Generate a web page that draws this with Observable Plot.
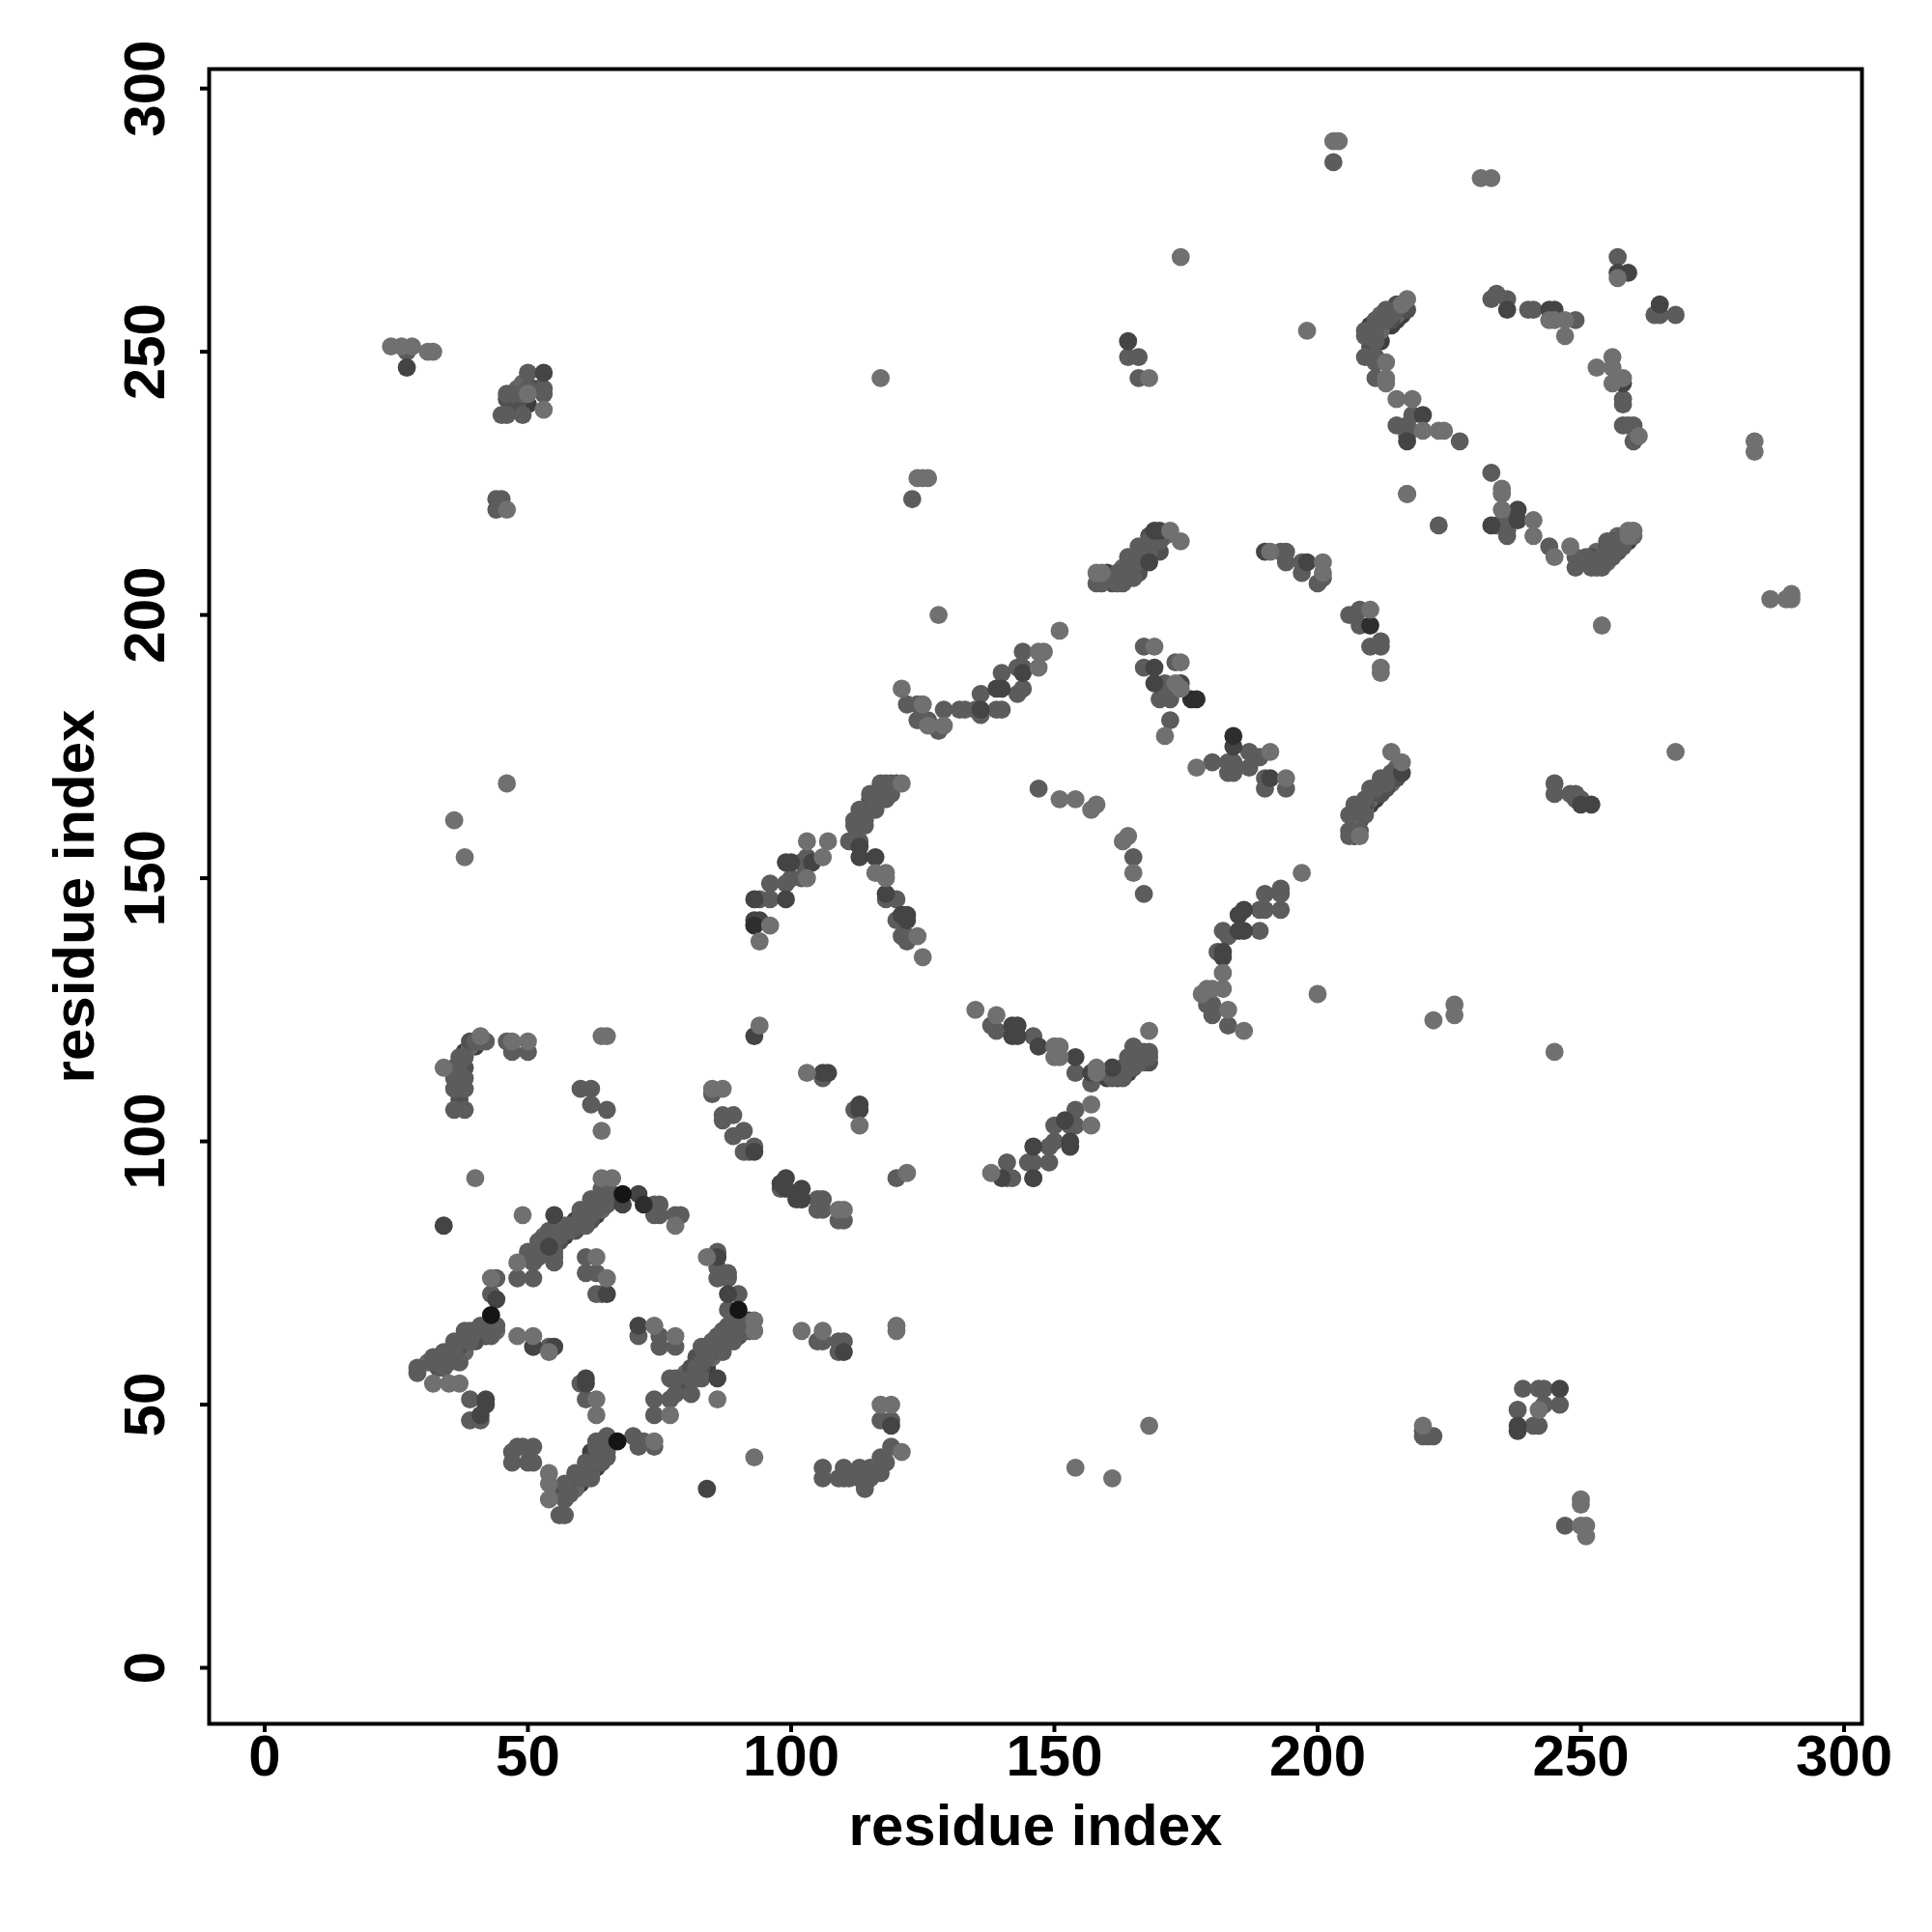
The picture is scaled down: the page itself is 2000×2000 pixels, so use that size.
<!DOCTYPE html>
<html>
<head>
<meta charset="utf-8">
<script src="https://cdn.jsdelivr.net/npm/d3@7"></script>
<script src="https://cdn.jsdelivr.net/npm/@observablehq/plot@0.6"></script>
<style>html,body{margin:0;padding:0;background:#fff}</style>
</head>
<body>
<div id="chart"></div>
<script>
const tickValues = [0, 50, 100, 150, 200, 250, 300];
const axisLabel = "residue index";

const midPoints = [
[65,90],[64,90],[64,91],[65,91],[62,89],[63,89],[65,88],[63,87],[62,86],[60,87],[60,86],[61,85],[61,84],[59,84],[58,83],[58,84],[57,83],[56,82],[55,82],[54,83],[55,81],[54,81],[55,79],[55,77],[55,78],[52,81],[50,79],[51,77],[52,78],[48,74],[51,74],
[44,74],[43,71],[44,65],[43,63],[42,65],[41,65],[40,64],[39,64],[38,64],[39,62],[37,62],[36,62],[36,60],[35,60],[34,60],[37,58],[35,58],[34,57],[32,59],[32,58],[29,57],[29,56],
[39,51],[39,47],[41,47],[51,61],[54,61],[61,75],[63,75],[61,78],[63,71],[64,71],[71,63],[75,63],[75,61],[78,61],[60,54],[61,51],
[86,79],[86,76],[86,74],[88,75],[88,74],[90,71],[88,68],[91,66],[91,64],[89,64],[88,65],[87,64],[89,62],[87,60],[86,63],[85,62],[83,61],[84,59],[83,58],[82,57],[83,55],[81,55],[81,52],[78,55],[77,55],[78,52],[74,51],[74,48],[77,51],
[70,44],[71,42],[74,42],[72,43],[65,44],[63,43],[65,42],[63,42],[65,40],[64,39],[62,39],[61,39],[62,36],[60,36],[59,37],[57,35],[57,32],[58,33],[56,29],[57,29],
[48,42],[47,41],[51,42],[47,39],[51,39],[50,39],[49,42],[75,88],[74,88],[74,86],[75,86],[78,86],[79,86],
[85,109],[87,105],[89,105],[87,104],[89,101],[91,102],[91,98],[93,99],[92,98],
[106,112],[112,106],[120,93],[98,91],[102,89],[105,89],[106,89],[105,87],[106,87],[109,85],[110,85],
[105,62],[106,62],[109,62],[110,62],[109,60],[117,47],[119,47],[119,42],[117,40],[118,39],[117,37],[115,38],[113,38],[110,38],[106,38],[106,36],[110,36],[113,36],[115,36],[114,34],[111,36],[109,36],
[138,122],[139,121],[146,120],[150,118],[154,113],[157,111],[161,114],[161,112],[163,112],[163,114],[166,115],[166,116],[168,116],[168,117],[167,117],[165,118],[164,116],[165,114],
[154,106],[154,103],[153,103],[150,103],[150,100],[149,99],[149,96],[145,96],[146,96],[146,93],[141,96],[142,93],[141,93],
[122,183],[124,183],[124,180],[126,180],[128,178],[129,182],[132,182],[133,182],[135,182],[136,185],[136,181],[139,182],[140,182],[140,189],[143,185],[144,186],[143,190],[144,190],[144,193],
[103,154],[102,153],[100,150],[102,150],[99,149],[96,149],[96,146],[94,146],
[119,168],[117,168],[118,168],[119,166],[115,166],[118,165],[116,165],[116,163],[115,163],[113,163],[112,161],[114,161],[112,160],[114,160],[113,157],[111,157],[112,157],
[118,147],[118,146],[120,146],[120,142],[121,139],[122,138],[122,139],[121,142],
[147,167],[165,154],[167,147],
[158,206],[159,206],[162,208],[162,206],[163,206],[163,208],[164,208],[164,211],[165,207],[166,213],[166,210],[167,212],[168,214],[168,212],[170,214],
[194,212],[193,212],[194,210],[197,210],[197,208],[200,206],[201,207],[206,200],[208,201],[208,198],[210,194],[212,195],[212,194],
[167,194],[167,190],[171,187],[173,191],[170,184],[172,184],[172,180],
[187,174],[189,173],[188,173],[180,172],[183,172],[184,172],[183,170],[184,170],[187,171],[190,167],[194,167],[190,169],
[214,170],[212,169],[213,168],[211,167],[210,167],[209,165],[207,164],[209,162],[206,162],[206,159],[206,158],[208,159],
[193,148],[193,147],[190,147],[193,144],[189,144],[190,144],[189,140],[182,140],[183,139],[181,136],[180,126],[179,126],[180,124],[183,122],
[257,268],[265,257],[264,257],[268,257],[258,241],[258,240],[258,236],[260,236],[259,236],[260,233],
[233,260],[234,261],[236,260],[240,258],[241,258],[249,256],
[215,258],[214,257],[213,258],[213,256],[211,256],[211,255],[209,254],[209,253],[211,253],[211,252],[209,249],[211,249],[211,248],[211,245],[218,238],[215,236],[217,236],[217,234],[227,233],
[217,223],[223,217],[233,227],[236,218],[236,216],[236,215],[234,217],[244,213],[249,211],[249,209],[251,211],[252,209],[253,209],[254,209],[255,214],[254,211],[256,211],[255,212],[257,213],[258,213],[258,215],
[27,250],[45,238],[46,238],[49,238],[46,242],[47,242],[50,243],[50,246],[53,243],[53,242],[49,242],[44,222],[45,222],[44,220],
[36,114],[36,112],[38,112],[36,110],[38,110],[36,106],[38,106],[37,116],[38,116],[37,115],[40,119],[42,119],[46,119],[50,117],[47,117],[60,110],[62,110],[62,107],[65,106],
[239,53],[242,53],[243,53],[238,49],[243,50],[246,50],[241,46],[242,46],[220,45],[220,44],[222,44],[221,44],[247,27],
[164,249],[166,249],[166,245],[203,286],[123,222],
[245,168],[245,166],[248,166],[249,166],[249,165],[250,165]
];

const bandLowerLeft = [[56,33],[56,34],[57,34],[58,34],[59,34],[59,36],[60,35],[60,37],[61,36],[61,38],[62,37],[62,38],[63,38],[63,40],[63,41],[64,40],[64,41],[64,42],[62,41],[65,41],[66,43]];
const bandUpperLeft = [[53,80],[53,82],[54,82],[55,80],[56,83],[56,81],[57,82],[57,84],[59,83],[59,85],[60,84],[60,85],[61,86],[61,87],[62,85],[62,87],[62,88],[63,88],[63,86],[64,87],[64,88],[64,89],[65,89],[66,90],[66,89]];
const bandLeft = [[31,58],[33,57],[33,59],[34,59],[35,59],[36,59],[36,61],[37,61],[37,60],[38,60],[38,62],[38,63],[39,63],[40,62],[40,63],[41,63],[41,64],[42,63],[42,64],[43,65],[43,64],[44,64]];
const bandRight = [[79,54],[80,54],[80,56],[81,57],[81,56],[82,55],[82,59],[82,58],[83,59],[83,57],[84,57],[84,60],[85,60],[85,61],[85,59],[86,61],[86,62],[87,62],[87,63],[88,62],[88,63],[88,64],[89,65],[89,63],[90,65],[90,64],[90,66],[90,63],[91,65],[92,65],[92,64],[92,66]];
const bandTopRight = [[210,253],[210,254],[210,255],[212,254],[212,256],[212,255],[212,257],[213,257],[214,255],[214,258],[214,256],[215,256],[215,257],[215,259],[216,257],[216,258],[217,258],[213,255],[210,252],[210,251],[212,252]];
const bandLowRight = [[250,210],[252,211],[253,210],[253,212],[254,210],[254,212],[255,210],[255,213],[256,212],[256,213],[256,214],[257,214],[257,215],[258,214],[259,214],[260,215],[257,212]];
const bandMiddleRight = [[207,162],[208,162],[208,163],[208,161],[209,163],[209,164],[210,164],[210,165],[210,166],[211,165],[211,166],[212,166],[212,167],[212,168],[213,167],[213,169],[214,168],[214,169],[215,170],[215,171],[215,169],[207,158],[207,159],[208,164]];
const bandMiddleTop = [[160,208],[161,207],[161,206],[163,207],[163,209],[164,209],[164,207],[165,209],[165,210],[165,208],[166,211],[166,208],[167,210],[167,211],[167,213],[168,211],[168,213],[168,215],[169,214],[169,215],[169,212],[170,215],[171,215],[170,212]];
const bandPeak = [[113,161],[113,160],[114,163],[114,162],[115,164],[115,165],[116,166],[117,165],[117,166],[118,167],[119,167],[120,168]];
const bandV = [[160,112],[160,113],[162,113],[164,113],[164,114],[164,115],[165,116],[165,115],[166,117],[167,116],[167,115],[168,115],[162,112]];
const clusterExtras = [[47,240],[48,240],[50,240],[48,243],[46,241],[51,243],[49,244],[52,243],[37,113],[37,112],[38,114],[38,117],[39,118],[39,119],[40,118],[41,119],[37,108]];

const darkPoints = [
[34,84],[71,90],[68,88],[55,86],[54,80],[44,70],[42,51],[42,50],[41,48],[51,61],[55,61],[65,71],[71,65],[61,55],[61,54],[86,78],[86,55],[88,71],
[93,120],[93,98],[106,113],[107,113],[113,107],[113,106],[99,93],[98,92],[102,91],[99,91],[101,89],[102,89],[110,60],[119,46],[84,34],
[142,122],[143,122],[142,120],[143,120],[147,118],[154,116],[157,113],[161,114],[152,104],[153,100],[153,99],[146,99],[146,93],[140,93],
[136,182],[139,186],[140,186],[144,189],[99,153],[100,153],[104,153],[99,146],[93,146],[93,142],[94,142],[113,156],[113,154],[116,154],[118,147],[121,143],[122,143],[122,142],
[190,212],[198,210],[169,190],[169,187],[174,187],[184,175],[191,169],[216,170],[186,144],[185,143],[186,140],[185,140],[182,136],[182,135],[169,216],[168,210],[170,216],
[259,265],[257,265],[265,259],[258,244],[236,258],[244,258],[245,258],[238,218],[238,220],[220,238],[217,233],[233,217],
[27,247],[53,246],[164,252],[246,53],[238,46],[238,45],[250,164],[252,164]
];

const deepPoints = [
[72,88],[210,198],[176,184],[177,184],[184,177],[93,141]
];

const blackPoints = [
[68,90],[67,43],[43,67],[90,68]
];

const lightPoints = [
[40,93],[64,93],[66,93],[78,84],[49,86],[48,77],[43,74],[48,63],[51,63],[54,60],[63,78],[65,74],[74,65],[78,63],[63,48],[63,51],[86,51],[84,78],[93,66],[93,64],[77,48],[74,43],[32,54],[35,54],[37,54],[54,37],[54,35],[54,32],
[94,122],[87,110],[85,110],[103,113],[113,103],[122,94],[109,87],[110,87],[102,64],[106,64],[120,65],[120,64],[117,50],[119,50],[121,41],[93,40],[154,38],[161,36],[168,46],
[135,125],[139,124],[150,118],[151,118],[150,116],[151,116],[158,114],[158,113],[168,121],[157,107],[157,103],[138,94],
[121,186],[125,183],[126,179],[129,179],[147,190],[147,193],[148,193],[151,197],
[103,157],[107,157],[106,154],[103,150],[96,141],[94,138],
[121,168],[116,151],[118,151],[118,150],[124,139],[125,135],
[151,165],[154,165],[157,163],[158,164],[163,157],[164,158],[165,151],
[217,223],[235,223],[159,208],[158,208],[172,216],[174,214],[191,212],[201,210],[201,208],[210,201],[212,190],[212,189],
[169,194],[174,191],[173,187],[174,186],[171,177],[191,174],[177,171],[194,169],[214,174],[216,172],[208,158],
[197,151],[186,121],[183,125],[178,128],[179,129],[180,129],[182,132],[182,129],[200,128],[226,126],[226,124],[222,123],
[198,254],[257,264],[253,247],[256,249],[256,247],[256,244],[258,245],[247,253],[261,234],[244,256],[245,256],[247,256],[217,260],[216,259],
[213,248],[213,245],[213,244],[215,241],[218,241],[220,235],[223,235],[224,235],
[235,224],[235,220],[241,218],[241,215],[245,211],[248,213],[260,216],[259,216],[259,215],
[203,290],[204,290],[231,283],[233,283],[174,268],[283,233],[283,231],[286,203],[289,203],[290,204],[290,203],[254,198],[268,174],[245,117],
[24,251],[26,251],[28,251],[31,250],[32,250],[50,242],[53,239],[46,220],[46,168],[36,161],[38,154],[168,245],[117,245],[124,226],[125,226],[126,226],[128,200],
[41,120],[47,119],[50,119],[34,114],[64,120],[65,120],[64,102],
[242,49],[220,46],[250,32],[250,31],[251,27],[250,27],[251,25]
];

const bandPoints = [bandLowerLeft, bandUpperLeft, bandLeft, bandRight, bandTopRight, bandLowRight, bandMiddleRight, bandMiddleTop, bandPeak, bandV, clusterExtras].flat();
const bandTones = ["#3e3e3e", "#666666", "#505050"];

const layers = [
  ...bandTones.map((fill, k) => ({points: bandPoints.filter((_, i) => i % 3 === k), fill})),
  {points: midPoints, fill: "#5c5c5c"},
  {points: darkPoints, fill: "#444444"},
  {points: deepPoints, fill: "#2e2e2e"},
  {points: blackPoints, fill: "#151515"},
  {points: lightPoints, fill: "#707070"}
];

const chart = Plot.plot({
  width: 2000,
  height: 2000,
  marginLeft: 216,
  marginRight: 73,
  marginTop: 71,
  marginBottom: 216,
  style: {fontFamily: "'Liberation Sans', sans-serif", fontWeight: "bold", background: "#fff", color: "#000"},
  x: {domain: [-10.55, 303.4]},
  y: {domain: [-10.64, 303.7]},
  marks: [
    ...layers.map(l => Plot.dot(l.points, {x: d => d[0], y: d => d[1], r: 9.4, fill: l.fill, stroke: "none"})),
    Plot.frame({stroke: "#000", strokeWidth: 4}),
    Plot.axisX({ticks: tickValues, tickSize: 9, tickPadding: 2, tickFormat: d => String(d), fontSize: 60, label: axisLabel, labelAnchor: "center", labelArrow: "none", labelOffset: 125, strokeWidth: 4, color: "#000"}),
    Plot.axisY({ticks: tickValues, tickSize: 9, tickPadding: 38, tickRotate: -90, textAnchor: "middle", tickFormat: d => String(d), fontSize: 60, label: axisLabel, labelAnchor: "center", labelArrow: "none", labelOffset: 162, strokeWidth: 4, color: "#000"})
  ]
});
document.getElementById("chart").appendChild(chart);
</script>
</body>
</html>
